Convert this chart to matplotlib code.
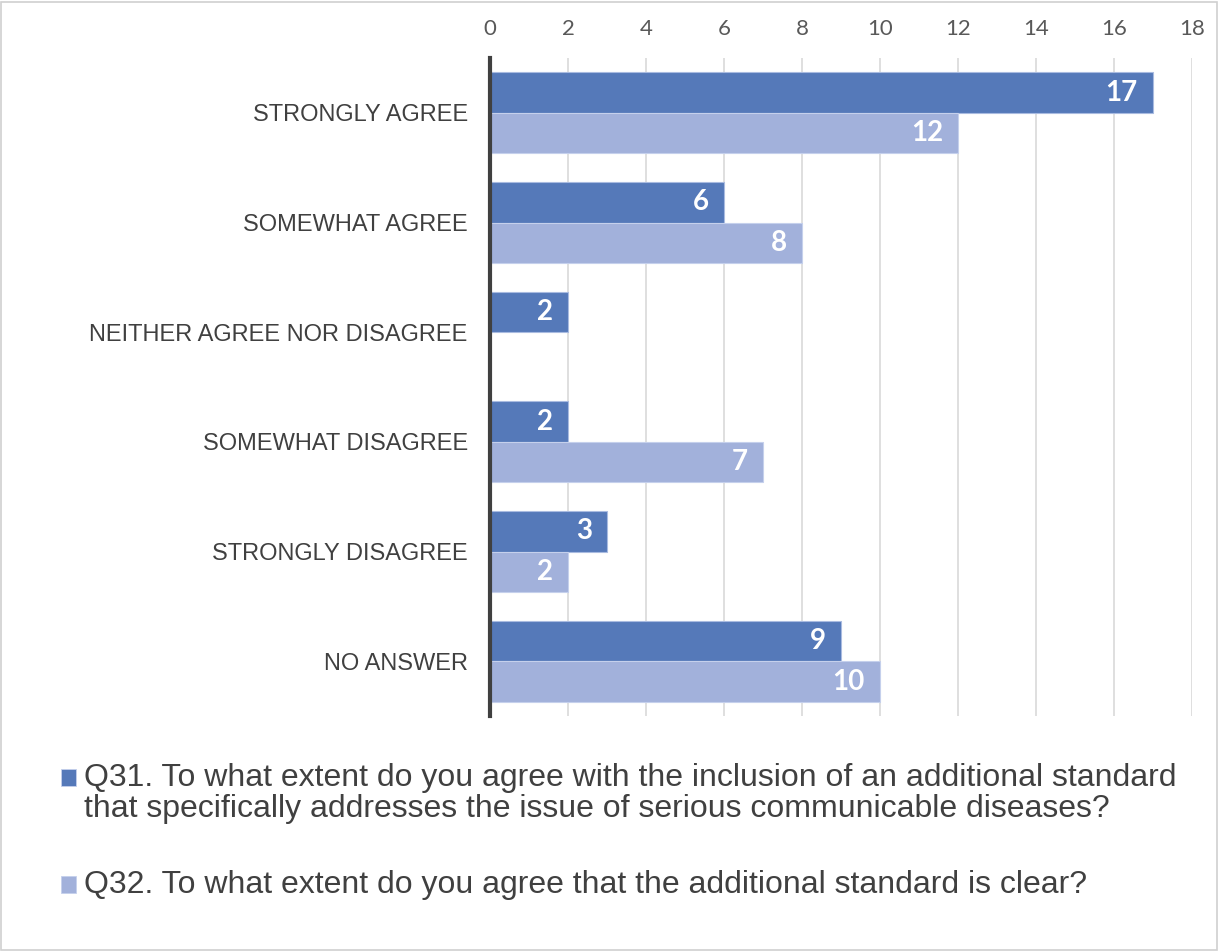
import numpy as np
import matplotlib.pyplot as plt
from matplotlib.patches import Rectangle

# survey responses
categories = ["STRONGLY AGREE", "SOMEWHAT AGREE", "NEITHER AGREE NOR DISAGREE",
              "SOMEWHAT DISAGREE", "STRONGLY DISAGREE", "NO ANSWER"]
q31_counts = [17, 6, 2, 2, 3, 9]
q32_counts = [12, 8, 0, 7, 2, 10]
x_ticks = list(range(0, 19, 2))

q31_label = ("Q31. To what extent do you agree with the inclusion of an additional standard\n"
             "that specifically addresses the issue of serious communicable diseases?")
q32_label = "Q32. To what extent do you agree that the additional standard is clear?"

dark = "#5579B9"
light = "#A2B1DB"
text_gray = "#404040"

fig = plt.figure(figsize=(12.19, 9.51), dpi=100)
ax = fig.add_axes([0.402, 0.247, 0.576, 0.692])

y = np.arange(len(categories))
h = 0.37
ax.barh(y - h / 2, q31_counts, height=h, color=dark, edgecolor="#A9BBE0", linewidth=0.8, zorder=3)
ax.barh(y + h / 2, q32_counts, height=h, color=light, edgecolor="#C5D0EC", linewidth=0.8, zorder=3)

# white value labels sitting inside the bar ends
for yy, vals in [(y - h / 2, q31_counts), (y + h / 2, q32_counts)]:
    for yi, v in zip(yy, vals):
        if v == 0:
            continue
        ax.annotate(str(v), (v, yi), xytext=(-11, 0), textcoords="offset points",
                    ha="right", va="center", color="white", fontsize=20,
                    fontweight="bold", family="Lato", zorder=4)

ax.set_xlim(0, 18)
ax.set_ylim(len(categories) - 0.5, -0.5)
ax.set_xticks(x_ticks)
ax.set_yticks(y)
ax.set_yticklabels(categories, fontsize=17, family="Liberation Sans", color=text_gray)
ax.xaxis.tick_top()
ax.tick_params(axis="x", length=0, pad=14, labelsize=16, labelcolor="#595959")
ax.tick_params(axis="y", length=0, pad=16)
for lbl in ax.get_xticklabels():
    lbl.set_family("Lato")

ax.grid(axis="x", color="#D9D9D9", linewidth=1.2, zorder=0)
for side in ["top", "right", "bottom"]:
    ax.spines[side].set_visible(False)
ax.spines["left"].set_color("#404040")
ax.spines["left"].set_linewidth(3)
ax.spines["left"].set_zorder(5)

# legend below the plot, drawn by hand so the marker sits on the first line
def legend_entry(ypos, color, label):
    fig.patches.append(Rectangle((61 / 1219, ypos - 0.009), 15 / 1219, 0.017,
                                 transform=fig.transFigure, facecolor=color,
                                 edgecolor="#C5D0EC", linewidth=0.6))
    fig.text(84 / 1219, ypos + 0.0145, label, ha="left", va="top", fontsize=23,
             family="Liberation Sans", color=text_gray, linespacing=1.05)

legend_entry(1 - 777 / 951, dark, q31_label)
legend_entry(1 - 884 / 951, light, q32_label)

# thin frame round the whole chart
fig.patches.append(Rectangle((0.001, 0.001), 0.997, 0.997, transform=fig.transFigure,
                             fill=False, edgecolor="#D0D0D0", linewidth=1.2))

fig.savefig("out.png", dpi=100)
